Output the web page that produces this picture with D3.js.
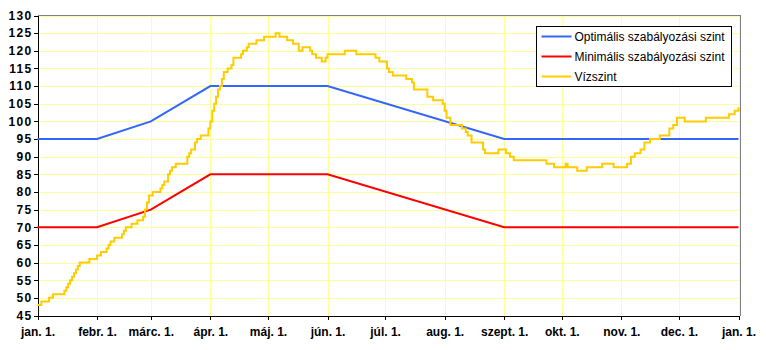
<!DOCTYPE html>
<html lang="hu">
<head>
    <meta charset="UTF-8">
    <title>Vízszint</title>
    <script src="https://d3js.org/d3.v7.min.js"></script>
    <style>
        body { margin: 0; background: #fff; }
        .axis text { font-family: "Liberation Sans", Arial, sans-serif; font-size: 12px; font-weight: bold; fill: #000; }
        .y-axis text { letter-spacing: 1.3px; }
        .legend-label { font-family: "Liberation Sans", Arial, sans-serif; font-size: 12px; fill: #000; }
    </style>
</head>
<body>
    <div id="chart"></div>
    <script>
        // Data (day of year -> value)
        const tickDays = [0, 31, 59, 90, 120, 151, 181, 212, 243, 273, 304, 334, 365];
        const tickLabels = ["jan. 1.", "febr. 1.", "márc. 1.", "ápr. 1.", "máj. 1.", "jún. 1.", "júl. 1.",
            "aug. 1.", "szept. 1.", "okt. 1.", "nov. 1.", "dec. 1.", "jan. 1."];

        const levelDays = [0, 31, 59, 90, 151, 243, 365];
        const optimal = [95, 95, 100, 110, 110, 95, 95];
        const minimal = [70, 70, 75, 85, 85, 70, 70];

        const waterDays = [0, 2, 6, 8, 14, 15, 16, 17, 18, 19, 20, 21, 22, 27, 31, 33, 36, 37, 38, 40, 44, 45, 46, 49,
            52, 55, 56, 57, 58, 60, 64, 65, 66, 68, 69, 70, 72, 78, 79, 80, 82, 83, 85, 89, 90, 91, 92, 93, 94, 95,
            96, 97, 99, 101, 102, 106, 107, 109, 110, 114, 118, 124, 126, 130, 133, 136, 138, 142, 143, 145, 148,
            150, 151, 160, 166, 176, 178, 182, 183, 185, 192, 195, 196, 203, 206, 211, 212, 213, 215, 221, 223,
            224, 226, 232, 233, 240, 244, 246, 248, 265, 269, 275, 276, 281, 286, 294, 300, 307, 309, 311, 314,
            316, 319, 324, 329, 331, 333, 337, 348, 360, 363, 365];
        const waterLevel = [48, 49, 50, 51, 52, 53, 54, 55, 56, 57, 58, 59, 60, 61, 62, 63, 64, 65, 66, 67, 68, 69, 70, 71,
            72, 73, 75, 77, 79, 80, 81, 82, 83, 85, 86, 87, 88, 90, 91, 92, 94, 95, 96, 98, 100, 103, 105, 107, 109, 110,
            112, 114, 115, 116, 118, 119, 120, 121, 122, 123, 124, 125, 124, 123, 122, 120, 121, 120, 119, 118, 117,
            118, 119, 120, 119, 118, 117, 115, 114, 113, 112, 111, 109, 107, 106, 105, 103, 101, 99, 98, 97,
            96, 94, 92, 91, 92, 91, 90, 89, 88, 87, 88, 87, 86, 87, 88, 87, 88, 90, 91, 92,
            94, 95, 96, 98, 99, 101, 100, 101, 102, 103, 104];

        const yTicks = d3.range(45, 131, 5);

        const width = 766, height = 350;
        const plotLeft = 37.5, plotRight = 738.5, plotTop = 15.5, plotBottom = 315.5;

        const x = d3.scaleLinear().domain([0, 365]).range([plotLeft, plotRight]);
        const y = d3.scaleLinear().domain([45, 130]).range([plotBottom, plotTop]);

        const svg = d3.select("#chart").append("svg")
            .attr("width", width)
            .attr("height", height);

        // Grid
        const grid = svg.append("g").attr("stroke", "#ffff99").attr("stroke-width", 1)
            .attr("shape-rendering", "crispEdges");
        grid.selectAll(".hg").data(yTicks.slice(1)).join("line")
            .attr("x1", plotLeft).attr("x2", plotRight + 2)
            .attr("y1", d => Math.round(y(d)) + 0.5).attr("y2", d => Math.round(y(d)) + 0.5);
        grid.selectAll(".vg").data(tickDays.slice(1)).join("line")
            .attr("x1", d => Math.round(x(d)) + 0.5).attr("x2", d => Math.round(x(d)) + 0.5)
            .attr("y1", plotTop).attr("y2", plotBottom);

        // Frame (top + right)
        svg.append("path")
            .attr("d", `M${plotLeft},${plotTop}H${plotRight + 2}V${plotBottom}`)
            .attr("fill", "none").attr("stroke", "#808080").attr("shape-rendering", "crispEdges");

        // Axes
        svg.append("g").attr("class", "axis y-axis")
            .attr("transform", `translate(${plotLeft},0)`)
            .call(d3.axisLeft(y).tickValues(yTicks).tickSize(4).tickPadding(1).tickSizeOuter(0));
        const xAxis = svg.append("g").attr("class", "axis")
            .attr("transform", `translate(0,${plotBottom})`)
            .call(d3.axisBottom(x).tickValues(tickDays).tickSize(4).tickPadding(8).tickSizeOuter(0)
                .tickFormat((d, i) => tickLabels[i]));
        svg.selectAll(".axis path, .axis line").attr("stroke", "#000").attr("shape-rendering", "crispEdges");
        xAxis.selectAll(".tick text").attr("dy", "0.71em");

        // Lines
        const line = d3.line().x(d => x(d[0])).y(d => y(d[1]));
        const series = [
            { name: "Optimális szabályozási szint", color: "#3366ff", pts: d3.zip(levelDays, optimal), curve: d3.curveLinear },
            { name: "Minimális szabályozási szint", color: "#ff0000", pts: d3.zip(levelDays, minimal), curve: d3.curveLinear },
            { name: "Vízszint", color: "#ffcc00", pts: d3.zip(waterDays, waterLevel), curve: d3.curveStepAfter }
        ];
        svg.selectAll(".series").data(series).join("path")
            .attr("class", "series")
            .attr("fill", "none")
            .attr("stroke", d => d.color)
            .attr("stroke-width", 2)
            .attr("d", d => line.curve(d.curve)(d.pts));

        // Legend
        const lg = svg.append("g").attr("transform", "translate(536.5,26.5)");
        lg.append("rect").attr("width", 195).attr("height", 60)
            .attr("fill", "#fff").attr("stroke", "#000").attr("shape-rendering", "crispEdges");
        const item = lg.selectAll(".item").data(series).join("g")
            .attr("transform", (d, i) => `translate(0,${10 + i * 20})`);
        item.append("line").attr("x1", 5).attr("x2", 35).attr("y1", 0).attr("y2", 0)
            .attr("stroke", d => d.color).attr("stroke-width", 2);
        item.append("text").attr("class", "legend-label")
            .attr("x", 38).attr("y", 4.5).text(d => d.name);
    </script>
</body>
</html>
